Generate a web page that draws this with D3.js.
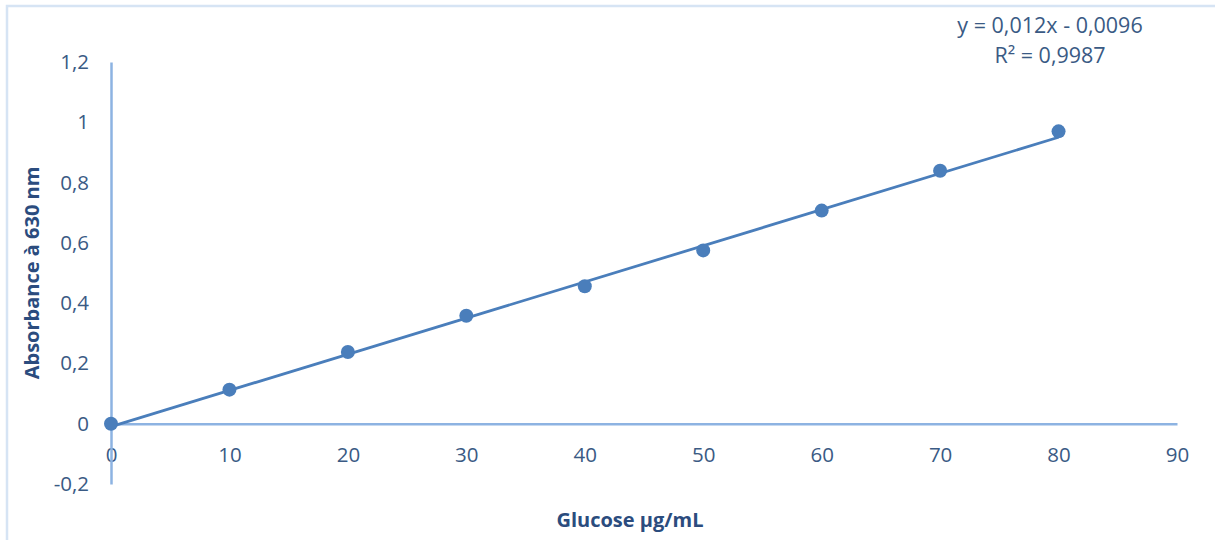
<!DOCTYPE html>
<html>
<head>
<meta charset="utf-8">
<script src="https://cdn.jsdelivr.net/npm/d3@7"></script>
<style>
  html, body { margin: 0; padding: 0; background: #fff; }
  svg { display: block; }
  text { font-family: "Open Sans", "Noto Sans", sans-serif; }
</style>
</head>
<body>
<svg id="chart" width="1215" height="540"></svg>
<script>
// Glucose calibration standards (µg/mL) and measured absorbance at 630 nm
const glucose = [0, 10, 20, 30, 40, 50, 60, 70, 80];
const absorbance = [0, 0.113, 0.238, 0.358, 0.456, 0.575, 0.707, 0.839, 0.970];

// Linear trendline coefficients and fit quality
const slope = 0.012;
const intercept = -0.0096;
const rSquared = 0.9987;

// Axis ticks
const xTicks = [0, 10, 20, 30, 40, 50, 60, 70, 80, 90];
const yTicks = [-0.2, 0, 0.2, 0.4, 0.6, 0.8, 1, 1.2];

const svg = d3.select("#chart");
const fr = d3.formatLocale({ decimal: ",", thousands: " ", grouping: [3], currency: ["", ""] });
const fmtTick = v => fr.format("~g")(+v.toFixed(4)).replace("−", "-");

const x = d3.scaleLinear().domain([0, 90]).range([111, 1177]);
const y = d3.scaleLinear().domain([-0.2, 1.2]).range([484, 62]);

const axisColor = "#8DB3E2";
const textColor = "#3A5A84";
const titleColor = "#2B4C7E";
const seriesColor = "#4A7EBB";

// Chart frame
svg.append("rect")
  .attr("x", 7).attr("y", 6)
  .attr("width", 1230).attr("height", 560)
  .attr("fill", "none")
  .attr("stroke", "#D6E4F4")
  .attr("stroke-width", 2.5);

// Horizontal axis along y = 0
const xAxis = svg.append("g")
  .attr("transform", `translate(0,${y(0)})`)
  .call(d3.axisBottom(x).tickValues(xTicks).tickSize(0).tickPadding(24).tickFormat(d => fmtTick(d)));
xAxis.select(".domain").attr("stroke", axisColor).attr("stroke-width", 2.5);
xAxis.selectAll("text").attr("fill", textColor).attr("font-size", 20.5);

// Vertical axis along x = 0
const yAxis = svg.append("g")
  .attr("transform", `translate(${x(0)},0)`)
  .call(d3.axisLeft(y).tickValues(yTicks).tickSize(0).tickPadding(22).tickFormat(d => fmtTick(d)));
yAxis.select(".domain").attr("stroke", axisColor).attr("stroke-width", 2.5);
yAxis.selectAll("text").attr("fill", textColor).attr("font-size", 20.5);

// Trendline from the fitted equation
const xMin = d3.min(glucose), xMax = d3.max(glucose);
const trend = [xMin, xMax].map(g => [g, slope * g + intercept]);
svg.append("path")
  .datum(trend)
  .attr("fill", "none")
  .attr("stroke", seriesColor)
  .attr("stroke-width", 2.8)
  .attr("d", d3.line().x(d => x(d[0])).y(d => y(d[1])));

// Measured points
svg.append("g")
  .selectAll("circle")
  .data(glucose.map((g, i) => [g, absorbance[i]]))
  .join("circle")
  .attr("cx", d => x(d[0]))
  .attr("cy", d => y(d[1]))
  .attr("r", 7)
  .attr("fill", seriesColor);

// Axis titles
svg.append("text")
  .attr("x", 630).attr("y", 527)
  .attr("text-anchor", "middle")
  .attr("font-size", 20).attr("font-weight", "bold")
  .attr("fill", titleColor)
  .text("Glucose µg/mL");

svg.append("text")
  .attr("transform", "translate(39,273) rotate(-90)")
  .attr("text-anchor", "middle")
  .attr("font-size", 20).attr("font-weight", "bold")
  .attr("fill", titleColor)
  .text("Absorbance à 630 nm");

// Trendline equation label
const eq = svg.append("text")
  .attr("text-anchor", "middle")
  .attr("font-size", 21.5)
  .attr("fill", textColor);
const fmt = (v, d) => v.toFixed(d).replace(".", ",");
eq.append("tspan").attr("x", 1050).attr("y", 33)
  .text(`y = ${fmt(slope, 3)}x - ${fmt(Math.abs(intercept), 4)}`);
eq.append("tspan").attr("x", 1050).attr("y", 63)
  .text(`R² = ${fmt(rSquared, 4)}`);
</script>
</body>
</html>
